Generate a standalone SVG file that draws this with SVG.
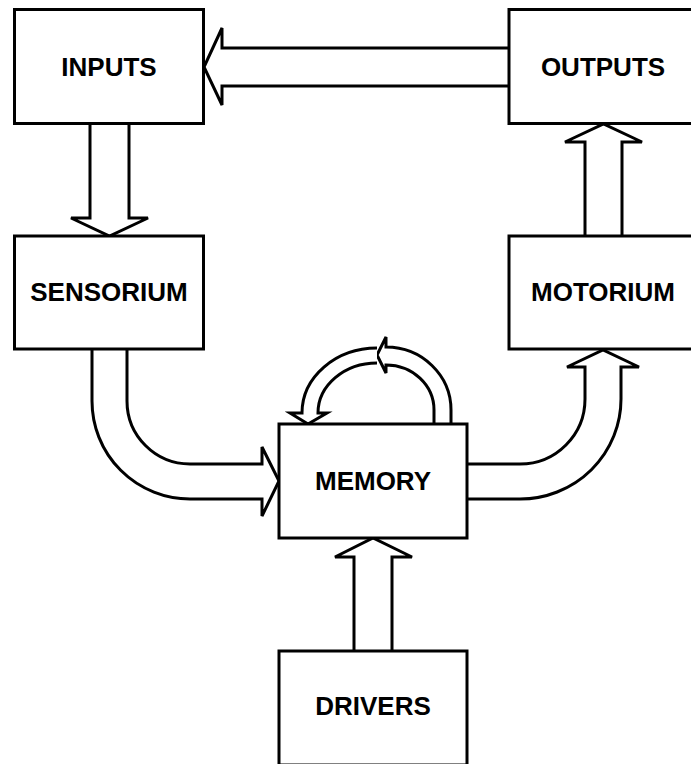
<svg xmlns="http://www.w3.org/2000/svg" width="691" height="764" viewBox="0 0 691 764">
<style>
  .box { fill: #ffffff; stroke: #000000; stroke-width: 3; }
  .arrow { fill: #ffffff; stroke: #000000; stroke-width: 3; stroke-linejoin: miter; }
  .label { font-family: "Liberation Sans", Arial, sans-serif; font-weight: bold; font-size: 26px; text-anchor: middle; fill: #000000; }
</style>
<rect x="0" y="0" width="691" height="764" fill="#ffffff"/>
<g id="connectors">
  <path class="arrow" d="M 509,48 L 222,48 L 222,28 L 204,67 L 222,105 L 222,86 L 509,86"/>
  <path class="arrow" d="M 90,123 L 90,218 L 71,218 L 109.5,236 L 148,218 L 129,218 L 129,123"/>
  <path class="arrow" d="M 585,236 L 585,142 L 565,142 L 603.5,124 L 642,142 L 622,142 L 622,236"/>
  <path class="arrow" d="M 92,349 L 92,401 A 98,98 0 0 0 190,499 L 262,499 L 262,516 L 279,481 L 262,447 L 262,464 L 190,464 A 63,63 0 0 1 127,401 L 127,349"/>
  <path class="arrow" d="M 467,464 L 520,464 A 65,65 0 0 0 585,399 L 585,367 L 567,367 L 603,350 L 639,367 L 621,367 L 621,399 A 101,100 0 0 1 520,499 L 467,499"/>
  <path class="arrow" d="M 451,424 L 451,410 A 65,63 0 0 0 386,347 L 386,337 L 377,355 L 386,373 L 386,365 A 48,45 0 0 1 434,410 L 434,424"/>
  <path class="arrow" d="M 377,348 A 75,65 0 0 0 302,413 L 290,413 L 308,424 L 327,413 L 318,413 A 59,50 0 0 1 377,363"/>
  <path class="arrow" d="M 354,651 L 354,557 L 335,557 L 373,538 L 412,557 L 392,557 L 392,651"/>
</g>
<g id="inputs">
  <rect class="box" x="14.5" y="9.5" width="189" height="114"/>
  <text class="label" x="109" y="76">INPUTS</text>
</g>
<g id="outputs">
  <rect class="box" x="509" y="9.5" width="189" height="114"/>
  <text class="label" x="603" y="76">OUTPUTS</text>
</g>
<g id="sensorium">
  <rect class="box" x="14.5" y="236" width="189" height="113"/>
  <text class="label" x="109" y="301">SENSORIUM</text>
</g>
<g id="motorium">
  <rect class="box" x="509" y="236" width="189" height="113"/>
  <text class="label" x="603" y="301">MOTORIUM</text>
</g>
<g id="memory">
  <rect class="box" x="279" y="424" width="188" height="114"/>
  <text class="label" x="373" y="490">MEMORY</text>
</g>
<g id="drivers">
  <rect class="box" x="279" y="651" width="188" height="114"/>
  <text class="label" x="373" y="715">DRIVERS</text>
</g>
</svg>
